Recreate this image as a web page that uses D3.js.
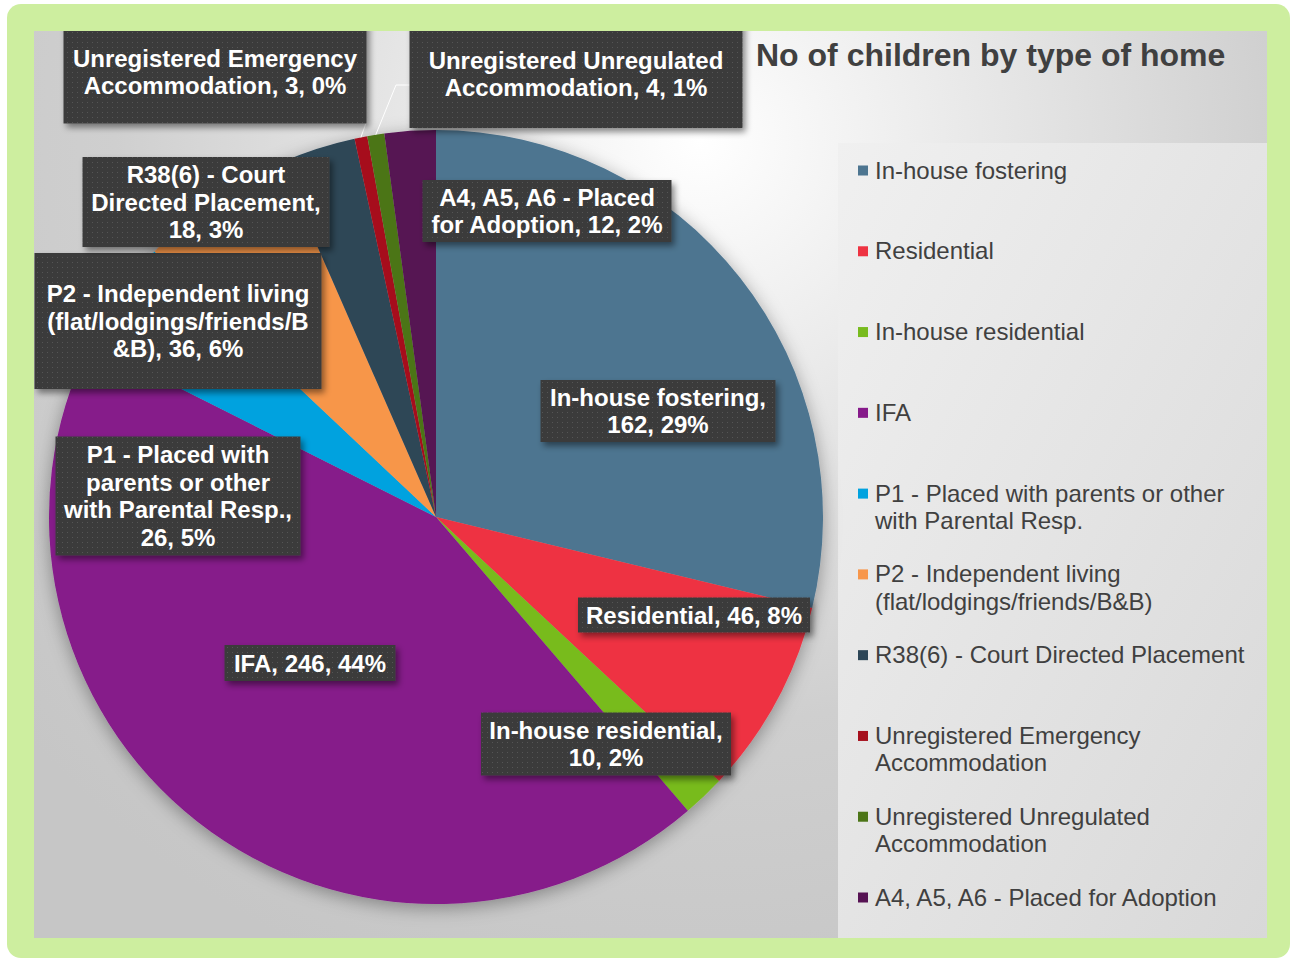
<!DOCTYPE html>
<html>
<head>
<meta charset="utf-8">
<script src="https://cdn.jsdelivr.net/npm/d3@7"></script>
<style>
  body { margin: 0; background: #fff; }
  svg { display: block; font-family: "Liberation Sans", Arial, sans-serif; }
</style>
</head>
<body>
<div id="container"></div>
<script>
// data
const categories = ["In-house fostering", "Residential", "In-house residential", "IFA",
  "P1 - Placed with parents or other with Parental Resp.",
  "P2 - Independent living (flat/lodgings/friends/B&B)",
  "R38(6) - Court Directed Placement", "Unregistered Emergency Accommodation",
  "Unregistered Unregulated Accommodation", "A4, A5, A6 - Placed for Adoption"];
const values = [162, 46, 10, 246, 26, 36, 18, 3, 4, 12];
const colors = ["#4d7590", "#ee3342", "#78bb1e", "#861a8a", "#00a2df",
                "#f7964a", "#2d4657", "#a60f1c", "#4c7517", "#561253"];
const labelLines = [
  ["In-house fostering,", "162, 29%"],
  ["Residential, 46, 8%"],
  ["In-house residential,", "10, 2%"],
  ["IFA, 246, 44%"],
  ["P1 - Placed with", "parents or other", "with Parental Resp.,", "26, 5%"],
  ["P2 - Independent living", "(flat/lodgings/friends/B", "&B), 36, 6%"],
  ["R38(6) - Court", "Directed Placement,", "18, 3%"],
  ["Unregistered Emergency", "Accommodation, 3, 0%"],
  ["Unregistered Unregulated", "Accommodation, 4, 1%"],
  ["A4, A5, A6 - Placed", "for Adoption, 12, 2%"]
];
const title = "No of children by type of home";

// layout
const width = 1291, height = 960;
const plot = {x: 34, y: 31, w: 1233, h: 907};
const cx = 436, cy = 517, radius = 387;
// label box centre x, centre y, width, height
const labelBoxes = [
  [658, 411, 235, 62], [694, 615, 232, 35], [606, 744, 250, 63], [310, 663, 171, 36],
  [178, 496, 245, 119], [178, 321, 287, 136], [206, 202, 247, 90],
  [215, 72, 303, 103], [576, 74, 333, 108], [547, 211, 249, 62]
];

const svg = d3.select("#container")
              .append("svg")
              .attr("width", width)
              .attr("height", height);
const defs = svg.append("defs");

const bg = defs.append("radialGradient")
               .attr("id", "bg")
               .attr("gradientUnits", "userSpaceOnUse")
               .attr("cx", 700).attr("cy", 140).attr("r", 900);
bg.append("stop").attr("offset", 0).attr("stop-color", "#ffffff");
bg.append("stop").attr("offset", 0.65).attr("stop-color", "#cfcfcf");
bg.append("stop").attr("offset", 1).attr("stop-color", "#c6c6c6");

const lg = defs.append("linearGradient")
               .attr("id", "legbg")
               .attr("x1", 0).attr("y1", 0).attr("x2", 1).attr("y2", 1);
lg.append("stop").attr("offset", 0).attr("stop-color", "#f0f0f0");
lg.append("stop").attr("offset", 1).attr("stop-color", "#d8d8d8");

const pat = defs.append("pattern")
                .attr("id", "dots")
                .attr("patternUnits", "userSpaceOnUse")
                .attr("width", 5).attr("height", 5);
pat.append("rect").attr("width", 5).attr("height", 5).attr("fill", "#3b3b3b");
pat.append("rect").attr("x", 2).attr("y", 2).attr("width", 1).attr("height", 1).attr("fill", "#555");

const pieShadow = defs.append("filter").attr("id", "pieShadow")
                      .attr("x", "-20%").attr("y", "-20%").attr("width", "140%").attr("height", "140%");
pieShadow.append("feDropShadow").attr("dx", 0).attr("dy", 4).attr("stdDeviation", 9)
         .attr("flood-color", "#000").attr("flood-opacity", 0.35);

const boxShadow = defs.append("filter").attr("id", "boxShadow")
                      .attr("x", "-10%").attr("y", "-10%").attr("width", "130%").attr("height", "140%");
boxShadow.append("feDropShadow").attr("dx", 3).attr("dy", 4).attr("stdDeviation", 3)
         .attr("flood-color", "#000").attr("flood-opacity", 0.45);

defs.append("clipPath").attr("id", "plotClip")
    .append("rect")
    .attr("x", plot.x).attr("y", plot.y).attr("width", plot.w).attr("height", plot.h);

// green frame
svg.append("rect")
   .attr("x", 7).attr("y", 4).attr("width", 1283).attr("height", 954)
   .attr("rx", 14)
   .attr("fill", "#cdee9f");
svg.append("rect")
   .attr("x", plot.x).attr("y", plot.y).attr("width", plot.w).attr("height", plot.h)
   .attr("fill", "url(#bg)");

const g = svg.append("g").attr("clip-path", "url(#plotClip)");

// legend panel
g.append("rect")
 .attr("x", 838).attr("y", 143).attr("width", 1267 - 838).attr("height", 938 - 143)
 .attr("fill", "url(#legbg)");

// pie
const pie = d3.pie().sort(null).value(d => d);
const arcs = pie(values);
const arc = d3.arc().innerRadius(0).outerRadius(radius);
const edge = d3.arc().innerRadius(radius).outerRadius(radius);

const pieG = g.append("g")
              .attr("transform", "translate(" + cx + "," + cy + ")")
              .attr("filter", "url(#pieShadow)");
pieG.selectAll("path")
    .data(arcs)
    .enter()
    .append("path")
    .attr("d", arc)
    .attr("fill", (d, i) => colors[i]);

// leader lines for the two tiny slices
const p7 = edge.centroid(arcs[7]);
const p8 = edge.centroid(arcs[8]);
g.append("polyline")
 .attr("points", [[cx + p7[0], cy + p7[1]], [366, 123]].join(" "))
 .attr("fill", "none").attr("stroke", "#fff").attr("stroke-width", 1);
g.append("polyline")
 .attr("points", [[cx + p8[0], cy + p8[1]], [396, 85], [410, 85]].join(" "))
 .attr("fill", "none").attr("stroke", "#fff").attr("stroke-width", 1);

// data labels
const lab = g.selectAll(".lab")
             .data(labelLines)
             .enter()
             .append("g")
             .attr("class", "lab");
lab.append("rect")
   .attr("x", (d, i) => labelBoxes[i][0] - labelBoxes[i][2] / 2)
   .attr("y", (d, i) => labelBoxes[i][1] - labelBoxes[i][3] / 2)
   .attr("width", (d, i) => labelBoxes[i][2])
   .attr("height", (d, i) => labelBoxes[i][3])
   .attr("fill", "url(#dots)")
   .attr("filter", "url(#boxShadow)");
lab.each(function(lines, i) {
  const b = labelBoxes[i];
  d3.select(this).selectAll("text")
    .data(lines)
    .enter()
    .append("text")
    .attr("x", b[0])
    .attr("y", (t, j) => b[1] + (j - (lines.length - 1) / 2) * 27.6 + 8.5)
    .attr("text-anchor", "middle")
    .attr("fill", "#fff")
    .attr("font-weight", "bold")
    .attr("font-size", 24)
    .text(t => t);
});

// title
g.append("text")
 .attr("x", 756).attr("y", 66)
 .attr("fill", "#404040")
 .attr("font-weight", "bold")
 .attr("font-size", 32)
 .text(title);

// legend
const legY = d3.scaleLinear().domain([0, categories.length - 1]).range([178.5, 905.5]);
const leg = g.selectAll(".leg")
             .data(categories)
             .enter()
             .append("g")
             .attr("class", "leg")
             .attr("transform", (d, i) => "translate(0," + legY(i) + ")");
leg.append("rect")
   .attr("x", 858).attr("y", -13)
   .attr("width", 10).attr("height", 10)
   .attr("fill", (d, i) => colors[i]);
leg.each(function(name) {
  const text = d3.select(this).append("text")
                 .attr("x", 875).attr("y", 0)
                 .attr("fill", "#404040")
                 .attr("font-size", 24);
  const words = name.split(" ");
  let line = [];
  let tspan = text.append("tspan").attr("x", 875).attr("dy", 0);
  words.forEach(w => {
    line.push(w);
    tspan.text(line.join(" "));
    if (tspan.node().getComputedTextLength() > 385 && line.length > 1) {
      line.pop();
      tspan.text(line.join(" "));
      line = [w];
      tspan = text.append("tspan").attr("x", 875).attr("dy", 27.5).text(w);
    }
  });
});
</script>
</body>
</html>
